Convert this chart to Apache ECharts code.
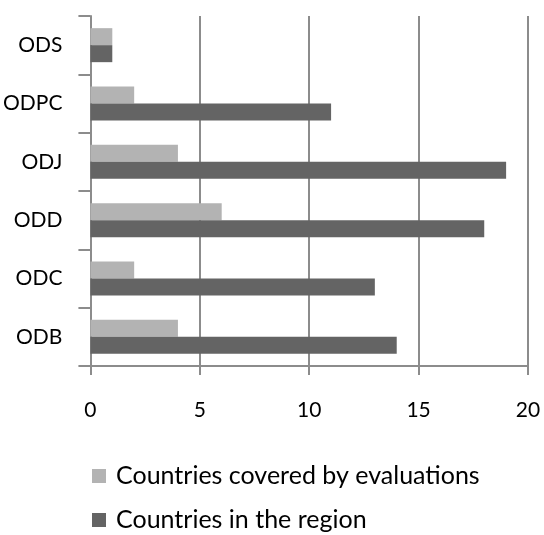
<!DOCTYPE html>
<html><head><meta charset="utf-8">
<script src="https://cdn.jsdelivr.net/npm/echarts@6/dist/echarts.min.js"></script>
<style>html,body{margin:0;padding:0;background:#fff}#c{width:544px;height:535px}</style>
</head><body><div id="c"></div>
<script>
var categories = ['ODB','ODC','ODD','ODJ','ODPC','ODS'];
var covered = [4, 2, 6, 4, 2, 1];
var inRegion = [14, 13, 18, 19, 11, 1];
var xTicks = [0, 5, 10, 15, 20];
var seriesNames = ['Countries covered by evaluations', 'Countries in the region'];

var font = 'Lato';
var chart = echarts.init(document.getElementById('c'));
var legendBase = {
  orient: 'vertical', left: 92, padding: 0,
  itemWidth: 14, itemHeight: 14, icon: 'rect', itemGap: 0,
  textStyle: {fontSize: 25, lineHeight: 26, color: '#000', fontFamily: font, padding: [0,0,0,5]}
};
chart.setOption({
  animation: false,
  textStyle: {fontFamily: font},
  grid: {left: 90, right: 16, top: 16, bottom: 169, containLabel: false},
  xAxis: {
    type: 'value', min: xTicks[0], max: xTicks[xTicks.length-1], interval: 5,
    axisLine: {show: true, lineStyle: {color: '#8c8c8c', width: 2}},
    axisTick: {show: true, length: 9, lineStyle: {color: '#8c8c8c', width: 2}},
    splitLine: {show: true, lineStyle: {color: '#8c8c8c', width: 2}},
    axisLabel: {fontSize: 21, color: '#000', margin: 34, fontFamily: font}
  },
  yAxis: {
    type: 'category', data: categories,
    axisLine: {show: true, lineStyle: {color: '#8c8c8c', width: 2}},
    axisTick: {show: true, length: 12, lineStyle: {color: '#8c8c8c', width: 2}},
    axisLabel: {fontSize: 21, color: '#000', margin: 28, fontFamily: font}
  },
  legend: [
    Object.assign({}, legendBase, {top: 463, data: [seriesNames[0]]}),
    Object.assign({}, legendBase, {top: 507, data: [seriesNames[1]]})
  ],
  series: [
    {name: seriesNames[0], type: 'bar', data: covered, barWidth: 17, barGap: '0%',
     itemStyle: {color: '#b3b3b3'}},
    {name: seriesNames[1], type: 'bar', data: inRegion, barWidth: 17, barGap: '0%',
     itemStyle: {color: '#646464'}}
  ]
});
</script></body></html>
